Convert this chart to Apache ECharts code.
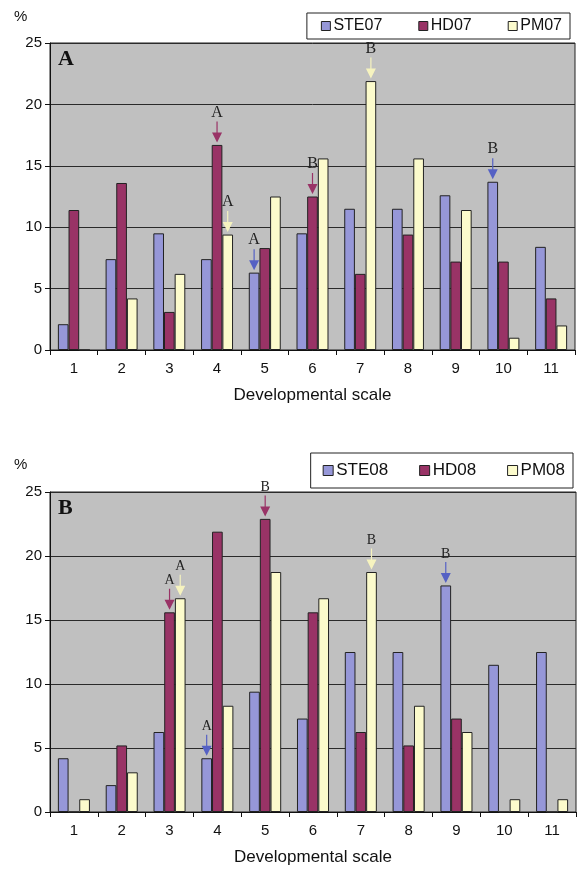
<!DOCTYPE html>
<html>
<head>
<meta charset="utf-8">
<script src="https://cdn.jsdelivr.net/npm/echarts@6/dist/echarts.min.js"></script>
<style>
html,body{margin:0;padding:0;background:#fff;}
#main{width:577px;height:877px;}
</style>
</head>
<body>
<div id="main"></div>
<script>
//横轴分类
var categories = ['1', '2', '3', '4', '5', '6', '7', '8', '9', '10', '11'];
//图A 2007 数据
var ste07 = [2.1, 7.4, 9.5, 7.4, 6.3, 9.5, 11.5, 11.5, 12.6, 13.7, 8.4];
var hd07  = [11.4, 13.6, 3.1, 16.7, 8.3, 12.5, 6.2, 9.4, 7.2, 7.2, 4.2];
var pm07  = [0, 4.2, 6.2, 9.4, 12.5, 15.6, 21.9, 15.6, 11.4, 1.0, 2.0];
//图B 2008 数据
var ste08 = [4.2, 2.1, 6.25, 4.2, 9.4, 7.3, 12.5, 12.5, 17.7, 11.5, 12.5];
var hd08  = [0, 5.2, 15.6, 21.9, 22.9, 15.6, 6.25, 5.2, 7.3, 0, 0];
var pm08  = [1.0, 3.1, 16.7, 8.3, 18.75, 16.7, 18.75, 8.3, 6.25, 1.0, 1.0];
//箭头标记 [系列, 分类序号, 字母]
var marks07 = [['hd', 3, 'A'], ['pm', 3, 'A'], ['ste', 4, 'A'], ['hd', 5, 'B'], ['pm', 6, 'B'], ['ste', 9, 'B']];
var marks08 = [['hd', 2, 'A'], ['pm', 2, 'A'], ['ste', 3, 'A'], ['hd', 4, 'B'], ['pm', 6, 'B'], ['ste', 8, 'B']];

var colors = { ste: '#9697d8', hd: '#993366', pm: '#fcfbcc' };
var arrowColors = { ste: '#5561c4', hd: '#993366', pm: '#f6f3bf' };
var arrowPath = 'path://M4.4,0 L5.6,0 L5.6,11 L10,11 L5,21 L0,11 L4.4,11 Z';

function buildMarks(marks, key, values, fontSize) {
	var list = [];
	for (var i = 0; i < marks.length; i++) {
		if (marks[i][0] != key) continue;
		var idx = marks[i][1];
		list.push({
			name: marks[i][2],
			coord: [idx, values[idx]]
		});
	}
	return {
		symbol: arrowPath,
		symbolSize: [10, 21],
		symbolOffset: [0, -13],
		itemStyle: { color: arrowColors[key] },
		label: {
			show: true,
			position: 'top',
			distance: 1,
			formatter: '{b}',
			color: '#222',
			fontFamily: 'Liberation Serif',
			fontSize: fontSize
		},
		data: list
	};
}

function barSeries(name, key, values, axisIdx, marks, fontSize) {
	return {
		name: name,
		type: 'bar',
		xAxisIndex: axisIdx,
		yAxisIndex: axisIdx,
		barGap: '0%',
		barCategoryGap: '33%',
		itemStyle: { color: colors[key], borderColor: '#222', borderWidth: 1 },
		data: values,
		markPoint: buildMarks(marks, key, values, fontSize)
	};
}

function xAxisCfg(idx) {
	return {
		type: 'category',
		gridIndex: idx,
		data: categories,
		name: 'Developmental scale',
		nameLocation: 'middle',
		nameGap: 37,
		nameTextStyle: { fontFamily: 'Liberation Sans', fontSize: 17, color: '#111' },
		axisLine: { lineStyle: { color: '#111', width: 1 } },
		axisTick: { show: true, length: 5, lineStyle: { color: '#111' } },
		axisLabel: { fontFamily: 'Liberation Sans', fontSize: 15, color: '#111', margin: 11 }
	};
}

function yAxisCfg(idx) {
	return {
		type: 'value',
		gridIndex: idx,
		min: 0,
		max: 25,
		interval: 5,
		axisLine: { show: true, lineStyle: { color: '#111', width: 1 } },
		axisTick: { show: true, length: 5, lineStyle: { color: '#111' } },
		axisLabel: { fontFamily: 'Liberation Sans', fontSize: 15, color: '#111', margin: 8 },
		splitLine: { show: true, lineStyle: { color: '#2a2a2a', width: 1 } }
	};
}

function legendCfg(names, top, right, fontSize, pad, icon, gap) {
	return {
		data: names,
		top: top,
		right: right,
		icon: 'rect',
		itemWidth: icon,
		itemHeight: icon,
		itemGap: gap,
		padding: pad,
		borderColor: '#222',
		borderWidth: 1,
		backgroundColor: '#fff',
		itemStyle: { borderColor: '#222', borderWidth: 1 },
		textStyle: { fontFamily: 'Liberation Sans', fontSize: fontSize, color: '#111', padding: [0, 0, 0, -2] }
	};
}

var chart = echarts.init(document.getElementById('main'));
var option = {
	animation: false,
	backgroundColor: '#fff',
	grid: [
		{ left: 50, right: 2, top: 43, height: 307, show: true, backgroundColor: '#c0c0c0', borderColor: '#222', borderWidth: 1 },
		{ left: 50, right: 1, top: 492, height: 320, show: true, backgroundColor: '#c0c0c0', borderColor: '#222', borderWidth: 1 }
	],
	legend: [
		legendCfg(['STE07', 'HD07', 'PM07'], 13, 7, 16, [5, 8, 5, 14], 9, 36),
		legendCfg(['STE08', 'HD08', 'PM08'], 453, 4, 17, [9, 8, 9, 12], 10, 31)
	],
	xAxis: [xAxisCfg(0), xAxisCfg(1)],
	yAxis: [yAxisCfg(0), yAxisCfg(1)],
	graphic: [
		{ type: 'text', left: 14, top: 9, style: { text: '%', fontFamily: 'Liberation Sans', fontSize: 15, fill: '#111' } },
		{ type: 'text', left: 14, top: 457, style: { text: '%', fontFamily: 'Liberation Sans', fontSize: 15, fill: '#111' } },
		{ type: 'text', left: 58, top: 48, style: { text: 'A', fontFamily: 'Liberation Serif', fontWeight: 'bold', fontSize: 22, fill: '#111' } },
		{ type: 'text', left: 58, top: 497, style: { text: 'B', fontFamily: 'Liberation Serif', fontWeight: 'bold', fontSize: 22, fill: '#111' } }
	],
	series: [
		barSeries('STE07', 'ste', ste07, 0, marks07, 16),
		barSeries('HD07', 'hd', hd07, 0, marks07, 16),
		barSeries('PM07', 'pm', pm07, 0, marks07, 16),
		barSeries('STE08', 'ste', ste08, 1, marks08, 14),
		barSeries('HD08', 'hd', hd08, 1, marks08, 14),
		barSeries('PM08', 'pm', pm08, 1, marks08, 14)
	]
};
chart.setOption(option);
</script>
</body>
</html>
